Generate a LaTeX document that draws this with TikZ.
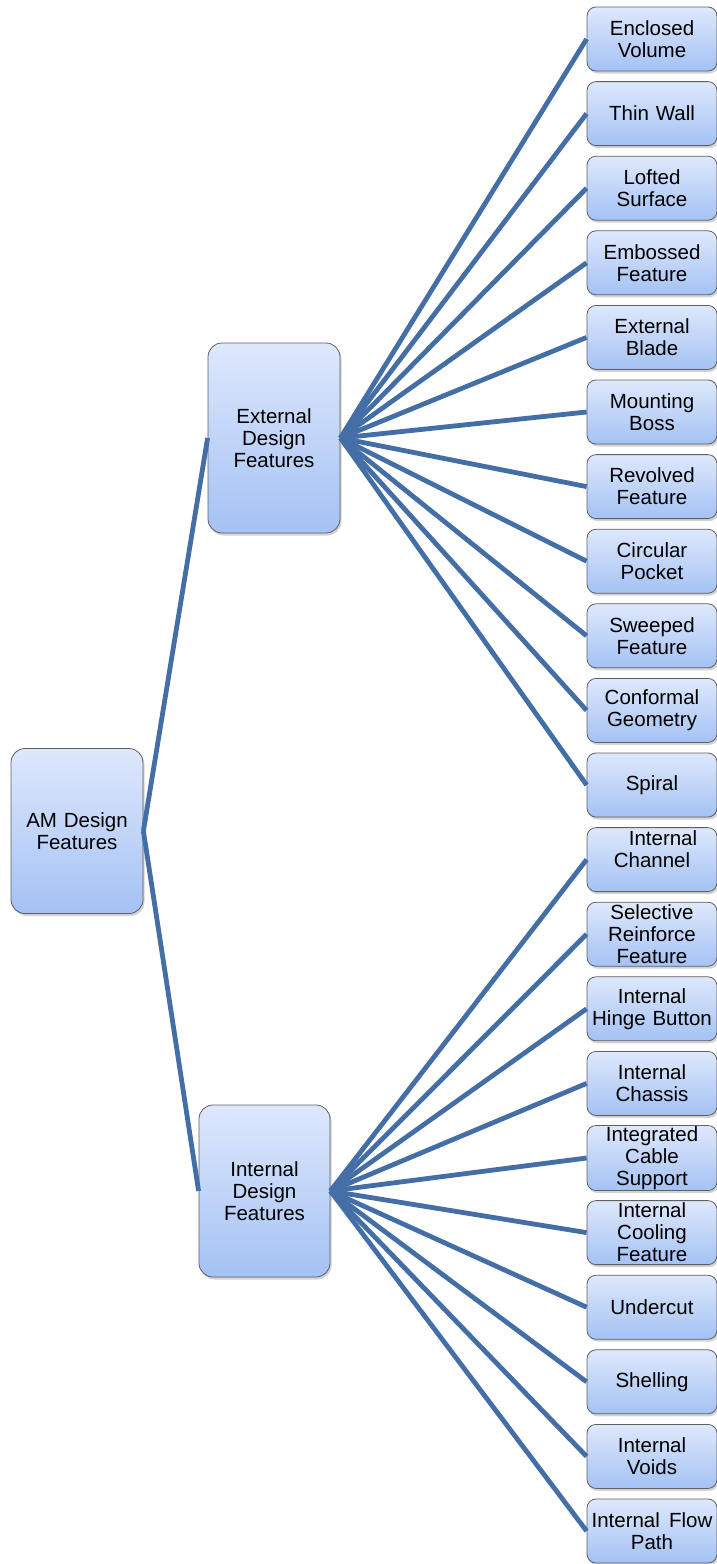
\documentclass[tikz,border=0pt]{standalone}
\usepackage{fontspec}
\setmainfont{Liberation Sans}
\usetikzlibrary{shadows}
\definecolor{linkc}{RGB}{68,110,166}
\definecolor{boxtop}{RGB}{222,232,252}
\definecolor{boxbot}{RGB}{164,194,244}
\definecolor{boxedge}{RGB}{95,95,95}
\tikzset{
  fbox/.style={draw=boxedge, line width=0.8pt, rounded corners=9pt,
    top color=boxtop, bottom color=boxbot, align=center,
    font=\fontsize{20.5}{22}\selectfont, inner sep=1pt,
    drop shadow={opacity=0.35, shadow xshift=1.5pt, shadow yshift=-2.5pt}},
  leafbox/.style={fbox, minimum width=130pt, minimum height=64pt, text width=128pt},
  bigbox/.style={fbox, rounded corners=14pt, minimum width=132pt, text width=128pt},
  link/.style={draw=linkc, line width=4.8pt}
}
\begin{document}
\begin{tikzpicture}[x=1pt,y=-1pt]
\useasboundingbox (0,0) rectangle (717,1564);
\node[bigbox, minimum height=165pt] (root) at (77,831) {AM Design\\Features};
\node[bigbox, minimum height=190pt] (ext) at (274,438) {External\\Design\\Features};
\node[bigbox, minimum height=172pt, minimum width=131pt] (int) at (264.5,1191) {Internal\\Design\\Features};
\foreach \i/\t in {0/{Enclosed\\Volume},1/{Thin Wall},2/{Lofted\\Surface},3/{Embossed\\Feature},4/{External\\Blade},5/{Mounting\\Boss},6/{Revolved\\Feature},7/{Circular\\Pocket},8/{Sweeped\\Feature},9/{Conformal\\Geometry},10/{Spiral}}{
  \node[leafbox] (e\i) at (652,39+\i*74.6) {\t};
}
\foreach \i/\t in {11/{\hspace*{22pt}Internal\\Channel\\\mbox{}},12/{Selective\\Reinforce\\Feature},13/{Internal\\Hinge Button},14/{Internal\\Chassis},15/{Integrated\\Cable\\Support},16/{Internal\\Cooling\\Feature},17/{Undercut},18/{Shelling},19/{Internal\\Voids},20/{Internal\hspace{0.45em}Flow\\Path}}{
  \node[leafbox] (e\i) at (652,39+\i*74.6) {\t};
}
\draw[link] (root.east) -- (ext.west);
\draw[link] (root.east) -- (int.west);
\foreach \i in {0,...,10}{ \draw[link] (ext.east) -- (e\i.west); }
\foreach \i in {11,...,20}{ \draw[link] (int.east) -- (e\i.west); }
\end{tikzpicture}
\end{document}
